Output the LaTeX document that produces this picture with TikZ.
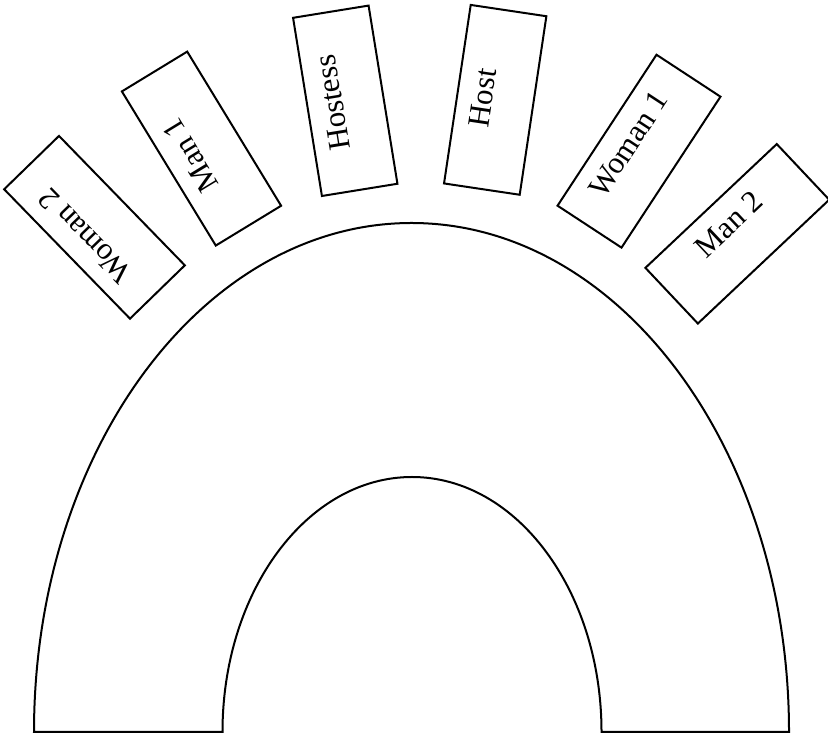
\documentclass[tikz,border=0pt]{standalone}
\usepackage{fontspec}
\setmainfont{Liberation Serif}
\begin{document}
\begin{tikzpicture}[x=0.5pt,y=0.5pt,
  seat/.style={draw=black, line width=1pt, fill=white, rectangle,
    minimum width=90.25pt, minimum height=38.25pt, inner sep=0pt, outer sep=0pt,
    text height=6pt, text depth=8.8pt,
    font=\fontsize{15.5pt}{18pt}\selectfont},
  tableline/.style={draw=black, line width=1pt, line join=miter}]
\useasboundingbox (0,0) rectangle (828,737);
% horseshoe table
\draw[tableline] (34,5) arc[start angle=180, end angle=0, x radius=377.5, y radius=509]
  -- (601.5,5) arc[start angle=0, end angle=180, x radius=189.5, y radius=255] -- cycle;
% seats
\node[seat, rotate=134.2]  (woman2)  at (94.5,509.7)   {Woman 2};
\node[seat, rotate=121.35] (man1)    at (201.5,588.4)  {Man 1};
\node[seat, rotate=99.2]   (hostess) at (345.25,636.2) {Hostess};
\node[seat, rotate=81.5]   (host)    at (495.2,637.15) {Host};
\node[seat, rotate=56.75]  (woman1)  at (639,585.8)    {Woman 1};
\node[seat, rotate=43.3]   (man2)    at (737.3,503.2)  {Man 2};
\end{tikzpicture}
\end{document}
